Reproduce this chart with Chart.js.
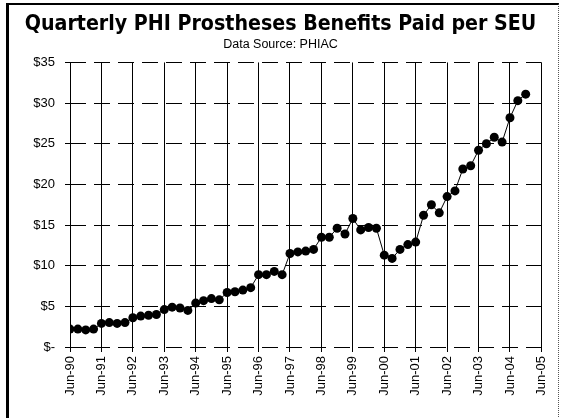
<!DOCTYPE html>
<html>
<head>
<meta charset="utf-8">
<script src="https://cdn.jsdelivr.net/npm/chart.js@4"></script>
<style>
  html, body { margin: 0; padding: 0; background: #fff; }
  #wrap { position: relative; width: 561px; height: 418px; overflow: hidden; }
  #frame {
    position: absolute; left: 6px; top: 3px; width: 549px; height: 430px;
    border-left: 3px solid #000; border-top: 2px solid #000; border-right: 1px dotted #555;
  }
  canvas { position: absolute; left: 0; top: 0; }
</style>
</head>
<body>
<div id="wrap">
  <div id="frame"></div>
  <canvas id="phiChart" width="561" height="418"></canvas>
</div>
<script>
// quarterly values, Jun-90 .. Dec-04 ($ per SEU)
const values = [
  2.2, 2.2, 2.1, 2.2,
  2.9, 3.0, 2.9, 3.0,
  3.6, 3.8, 3.9, 4.0,
  4.6, 4.9, 4.8, 4.5,
  5.4, 5.7, 5.95, 5.8,
  6.7, 6.8, 7.0, 7.3,
  8.9, 8.9, 9.3, 8.9,
  11.5, 11.7, 11.8, 12.0,
  13.5, 13.5, 14.6, 13.9,
  15.8, 14.4, 14.7, 14.6,
  11.3, 10.9, 12.0, 12.6,
  12.9, 16.2, 17.5, 16.5,
  18.5, 19.2, 21.9, 22.3,
  24.2, 25.0, 25.8, 25.2,
  28.2, 30.3, 31.1
];
const tickLabels = ['Jun-90', 'Jun-91', 'Jun-92', 'Jun-93', 'Jun-94', 'Jun-95', 'Jun-96', 'Jun-97',
  'Jun-98', 'Jun-99', 'Jun-00', 'Jun-01', 'Jun-02', 'Jun-03', 'Jun-04', 'Jun-05'];
const yTicks = [0, 5, 10, 15, 20, 25, 30, 35];

const points = values.map((v, i) => ({ x: i, y: v }));
const lastQ = (tickLabels.length - 1) * 4;

const ctx = document.getElementById('phiChart').getContext('2d');
const chart = new Chart(ctx, {
  type: 'line',
  data: {
    datasets: [{
      data: points,
      borderColor: '#000',
      backgroundColor: '#000',
      borderWidth: 1,
      pointRadius: 4.5,
      pointBorderWidth: 0,
      tension: 0
    }]
  },
  options: {
    responsive: false,
    animation: false,
    layout: { padding: { top: 0, left: 14, right: 14, bottom: 0 } },
    plugins: {
      legend: { display: false },
      tooltip: { enabled: false },
      title: {
        display: true,
        text: 'Quarterly PHI Prostheses Benefits Paid per SEU',
        color: '#000',
        font: { family: '"DejaVu Sans Condensed", "DejaVu Sans", sans-serif', size: 21.2, weight: 'bold' },
        padding: { top: 12, bottom: 0 }
      },
      subtitle: {
        display: true,
        text: 'Data Source: PHIAC',
        color: '#000',
        font: { family: '"Liberation Sans", Arial, sans-serif', size: 12.5 },
        padding: { top: 0, bottom: 10 }
      }
    },
    scales: {
      x: {
        type: 'linear',
        min: 0,
        max: lastQ,
        afterFit: s => { s.height = 71; },
        afterBuildTicks: s => { s.ticks = tickLabels.map((t, i) => ({ value: i * 4 })); },
        ticks: {
          autoSkip: false,
          maxRotation: 90,
          minRotation: 90,
          padding: 4,
          color: '#000',
          font: { family: '"Liberation Sans", Arial, sans-serif', size: 13 },
          callback: v => tickLabels[v / 4]
        },
        grid: { color: '#000', lineWidth: 1, tickLength: 5 },
        border: { display: false }
      },
      y: {
        min: 0,
        max: 35,
        afterFit: s => { s.width = 56; },
        afterBuildTicks: s => { s.ticks = yTicks.map(v => ({ value: v })); },
        ticks: {
          padding: 10,
          color: '#000',
          font: { family: '"Liberation Sans", Arial, sans-serif', size: 13 },
          callback: v => v === 0 ? '$-' : '$' + v
        },
        grid: { color: '#000', lineWidth: 1, tickLength: 5, tickBorderDash: [] },
        border: { display: false, dash: [16, 8] }
      }
    }
  }
});
</script>
</body>
</html>
